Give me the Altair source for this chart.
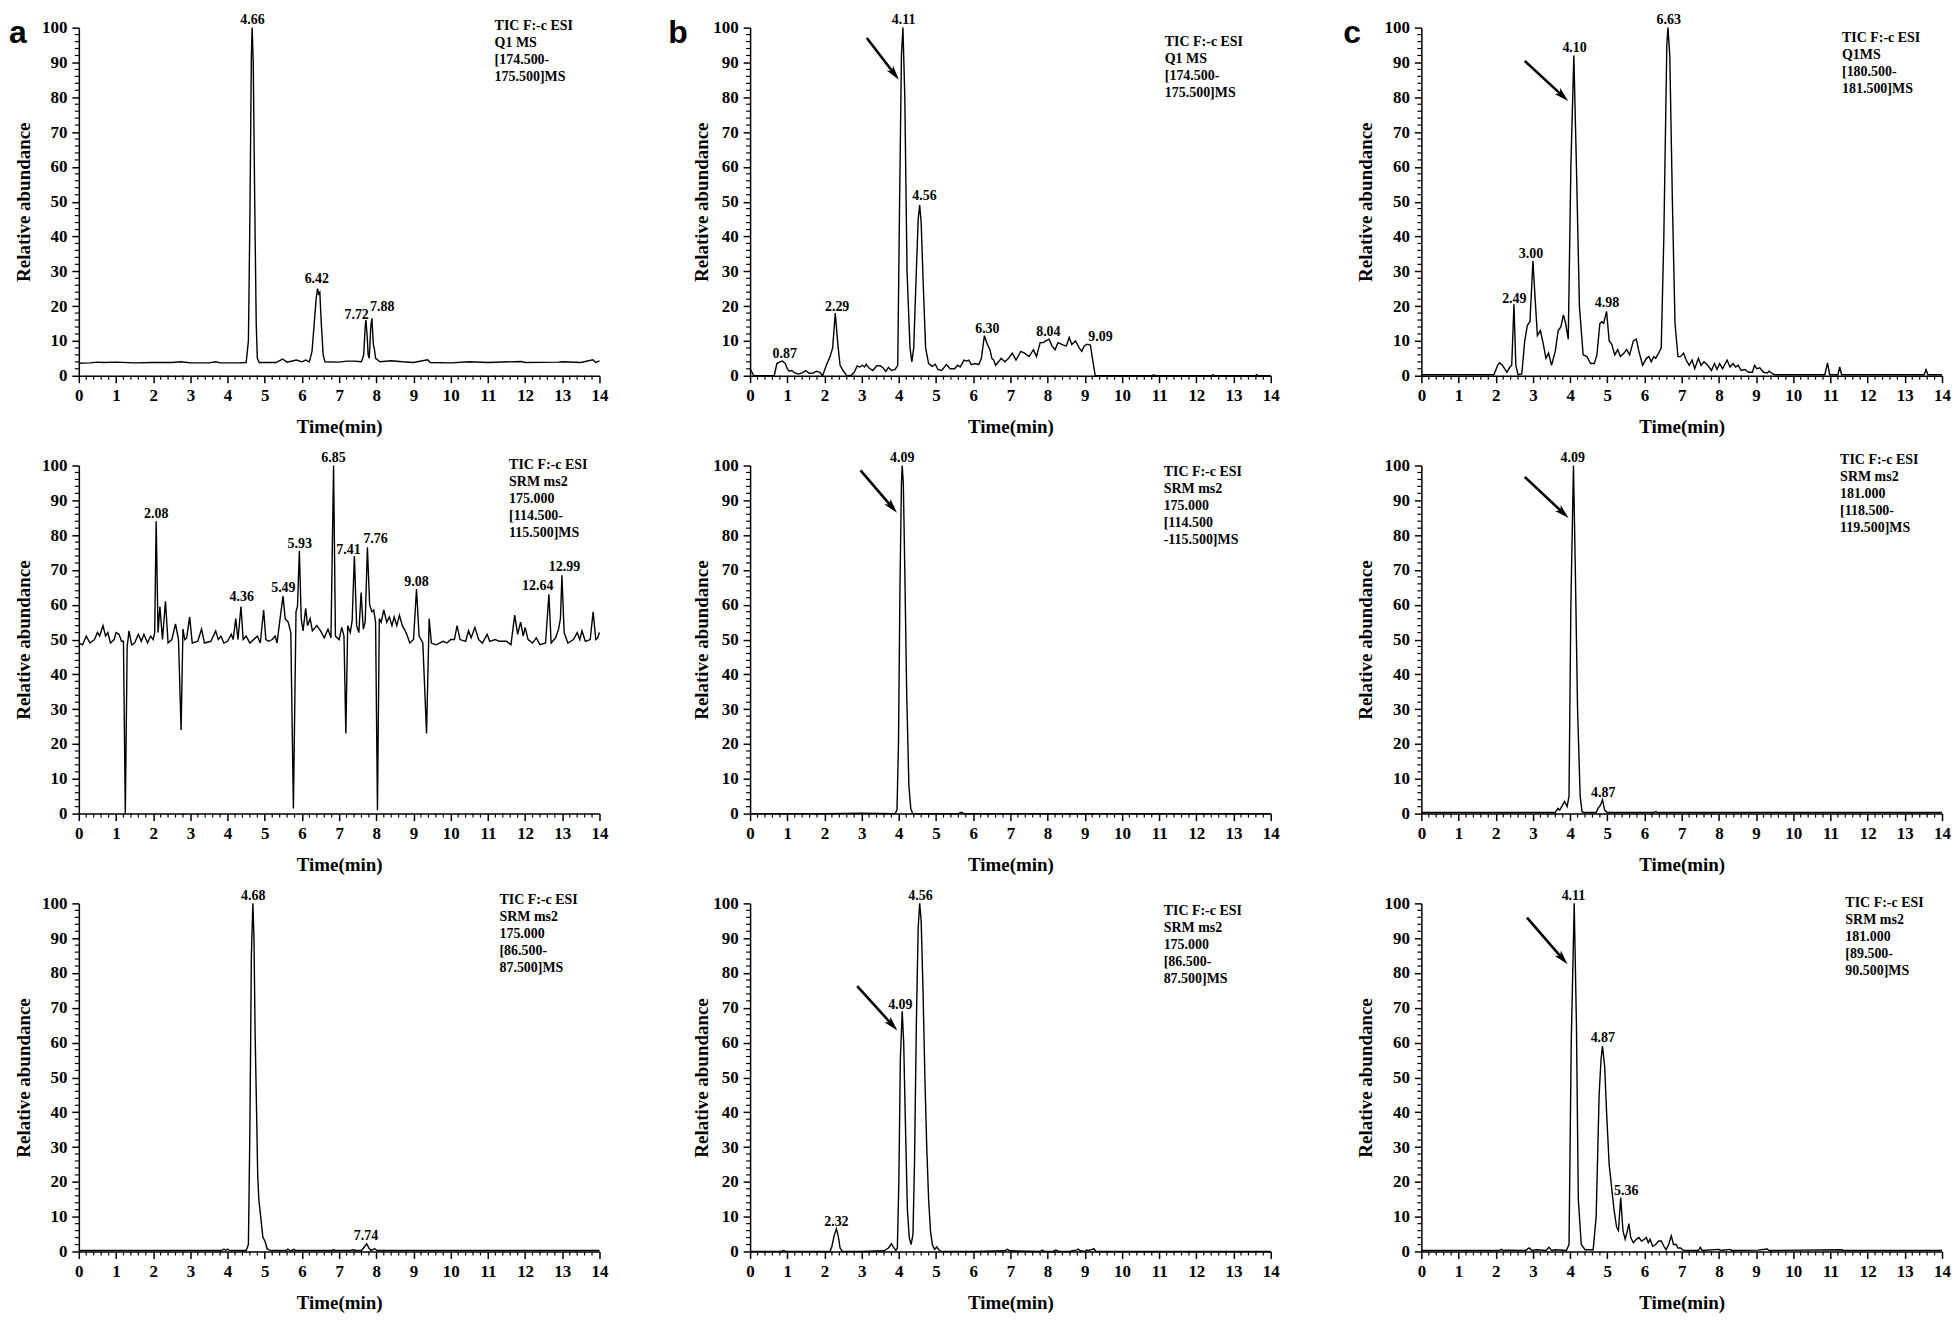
import math
import altair as alt
import pandas as pd

# ------------------------------------------------------------------ data
# panel a1 : Q1 MS [174.500-175.500]
a1 = [(0, 3.6), (0.3, 3.7), (0.5, 3.9), (0.65, 3.8), (1.0, 3.9), (1.5, 3.7), (2.0, 3.8), (2.5, 3.8),
      (2.75, 4.0), (3.0, 3.7), (3.5, 3.7), (3.68, 4.0), (3.8, 3.7), (4.3, 3.7), (4.5, 3.8), (4.56, 10),
      (4.6, 45), (4.64, 92), (4.66, 100), (4.69, 90), (4.73, 50), (4.77, 15), (4.8, 5), (4.85, 3.8),
      (5.3, 3.8), (5.48, 4.8), (5.6, 3.9), (5.85, 4.5), (6.0, 4.0), (6.1, 4.5), (6.2, 4.0), (6.27, 7),
      (6.33, 15), (6.38, 22), (6.42, 25), (6.45, 23.5), (6.48, 24), (6.52, 15), (6.57, 6), (6.62, 4),
      (7.0, 3.9), (7.2, 4.2), (7.4, 4.2), (7.6, 4.0), (7.66, 6), (7.7, 14), (7.72, 16), (7.75, 12),
      (7.78, 6), (7.81, 5), (7.85, 14), (7.88, 16.5), (7.92, 9), (7.95, 7.5), (7.98, 5), (8.1, 4.0),
      (8.4, 4.3), (8.7, 4.0), (9.0, 3.8), (9.38, 4.6), (9.45, 3.8), (10, 3.7), (10.5, 4.0), (11, 3.8),
      (11.9, 4.1), (12, 3.8), (12.9, 3.9), (13, 4.0), (13.5, 3.8), (13.82, 4.6), (13.9, 3.8), (14, 4.3)]

# panel a2 : SRM 175.000 [114.500-115.500]
a2 = [(0.0, 49), (0.1, 48.5), (0.2, 51), (0.3, 49), (0.42, 50), (0.5, 52), (0.56, 51), (0.65, 54),
      (0.72, 51), (0.78, 52), (0.85, 49), (0.95, 50), (1.0, 52), (1.08, 51.5), (1.15, 49.5), (1.2, 49.5),
      (1.25, 0), (1.3, 48), (1.35, 52.5), (1.42, 48.5), (1.5, 49), (1.6, 51.5), (1.68, 49.5), (1.75, 51.5),
      (1.85, 49), (1.93, 51), (2.0, 50), (2.04, 52), (2.08, 84), (2.13, 52), (2.18, 59.5), (2.25, 50),
      (2.33, 61), (2.4, 49), (2.5, 50), (2.6, 54.5), (2.68, 50), (2.75, 24), (2.8, 53), (2.85, 50),
      (2.9, 50.5), (2.98, 56.5), (3.05, 49), (3.2, 49.5), (3.3, 53), (3.38, 49), (3.55, 49.5), (3.68, 52.5),
      (3.75, 50), (3.82, 51), (3.9, 49), (4.0, 49.5), (4.1, 51.5), (4.15, 50), (4.22, 56), (4.28, 50),
      (4.36, 59.5), (4.42, 50), (4.5, 51), (4.6, 49), (4.8, 51), (4.88, 49), (4.97, 58.5), (5.03, 50),
      (5.1, 49.5), (5.2, 50), (5.28, 51), (5.33, 49), (5.4, 55), (5.49, 62.5), (5.55, 56), (5.63, 55),
      (5.7, 52), (5.77, 1.5), (5.84, 58), (5.88, 59.5), (5.93, 75.5), (5.98, 56), (6.03, 52.5), (6.1, 59),
      (6.15, 54), (6.22, 56), (6.28, 52.5), (6.4, 54), (6.5, 52.5), (6.6, 50.5), (6.7, 53), (6.78, 50.5),
      (6.85, 100), (6.9, 51), (7.0, 50), (7.07, 53.5), (7.13, 51), (7.18, 23), (7.23, 54), (7.3, 52),
      (7.35, 55.5), (7.41, 74), (7.47, 54), (7.53, 52), (7.59, 63.5), (7.65, 53), (7.7, 55), (7.76, 76.5),
      (7.82, 60), (7.88, 58), (7.93, 58.5), (7.98, 55), (8.03, 1), (8.08, 56), (8.13, 55), (8.2, 58.5),
      (8.28, 55), (8.35, 56.5), (8.42, 54), (8.48, 56.5), (8.55, 54), (8.62, 57), (8.7, 54), (8.8, 52),
      (8.9, 49), (9.0, 50), (9.08, 64.5), (9.15, 51), (9.25, 49), (9.35, 23), (9.42, 56), (9.48, 49),
      (9.6, 48.5), (9.8, 49.5), (9.9, 49), (10.0, 50), (10.1, 50), (10.17, 54), (10.25, 50), (10.4, 49.5),
      (10.48, 52.5), (10.55, 50.5), (10.65, 53.5), (10.75, 50), (10.85, 49), (10.98, 51.5), (11.05, 49.5),
      (11.2, 50), (11.3, 49.5), (11.5, 49.5), (11.62, 48.5), (11.72, 57), (11.8, 51.5), (11.88, 55),
      (11.95, 51), (12.0, 53.5), (12.08, 50), (12.2, 49), (12.3, 50.5), (12.4, 48.5), (12.55, 49),
      (12.64, 63), (12.7, 49), (12.82, 50.5), (12.9, 53), (12.95, 56), (12.99, 68.5), (13.05, 52),
      (13.15, 49), (13.3, 50), (13.4, 52), (13.47, 50), (13.53, 52.5), (13.62, 49.5), (13.75, 50),
      (13.83, 58), (13.9, 50), (13.95, 50.5), (14.0, 52)]

# panel a3 : SRM 175.000 [86.500-87.500]
a3 = [(0, 0.3), (1.0, 0.3), (2.0, 0.3), (3.0, 0.3), (3.85, 0.3), (3.9, 0.7), (3.95, 0.3), (4.0, 0.7),
      (4.05, 0.3), (4.5, 0.3), (4.56, 2), (4.6, 35), (4.64, 85), (4.68, 100), (4.71, 90), (4.74, 63),
      (4.78, 40), (4.81, 22), (4.84, 15), (4.88, 11), (4.92, 7), (4.95, 4), (4.98, 3.5), (5.02, 2.5),
      (5.06, 0.8), (5.12, 0.4), (5.3, 0.3), (5.58, 0.3), (5.62, 0.7), (5.67, 0.3), (5.74, 0.3),
      (5.78, 0.6), (5.83, 0.3), (6.8, 0.3), (6.85, 0.5), (6.9, 0.3), (7.3, 0.3), (7.38, 0.5), (7.45, 0.3),
      (7.6, 0.3), (7.67, 1.2), (7.74, 2.2), (7.8, 1.0), (7.85, 0.3), (7.9, 0.5), (7.96, 0.8), (8.02, 0.3),
      (10, 0.3), (12, 0.3), (14, 0.3)]

# panel b1 : Q1 MS [174.500-175.500]
b1 = [(0.0, 2), (0.05, 1), (0.1, 0), (0.65, 0), (0.72, 3.5), (0.8, 4), (0.87, 4.2), (0.95, 3.5),
      (1.0, 2), (1.05, 1.3), (1.12, 1.5), (1.2, 0.8), (1.3, 0.5), (1.4, 0.8), (1.5, 1.5), (1.58, 0.7),
      (1.7, 0.8), (1.78, 1.3), (1.88, 1), (1.95, 0), (2.05, 3), (2.15, 5.5), (2.22, 8), (2.29, 18),
      (2.36, 9), (2.42, 3), (2.5, 1.5), (2.6, 0), (2.7, 0), (2.8, 1), (2.88, 2.8), (2.95, 2.5), (3.02, 3),
      (3.08, 2.5), (3.12, 3.3), (3.2, 2.2), (3.3, 1.5), (3.4, 2.8), (3.5, 2.9), (3.58, 2.2), (3.65, 1.2),
      (3.72, 2.4), (3.8, 1.5), (3.9, 1.8), (3.97, 3), (4.02, 50), (4.07, 92), (4.11, 100), (4.16, 80),
      (4.22, 30), (4.3, 8), (4.35, 4), (4.4, 8), (4.47, 30), (4.52, 45), (4.56, 49), (4.6, 44),
      (4.66, 25), (4.72, 8), (4.8, 3.5), (4.9, 2.7), (4.98, 3.3), (5.05, 1.8), (5.15, 1.5), (5.28, 3.2),
      (5.38, 2), (5.5, 2), (5.58, 3), (5.65, 2.5), (5.75, 4.5), (5.82, 4.2), (5.88, 4.5), (5.95, 3.2),
      (6.05, 3.5), (6.15, 3.2), (6.22, 5), (6.3, 11.5), (6.38, 9), (6.45, 7.5), (6.5, 5), (6.55, 4.5),
      (6.6, 3), (6.68, 4), (6.75, 5), (6.85, 4), (6.95, 5), (7.05, 6.5), (7.15, 4.5), (7.28, 7),
      (7.38, 6.5), (7.5, 5.5), (7.62, 7.5), (7.7, 5.5), (7.8, 9.5), (7.88, 9.5), (7.95, 10), (8.04, 10.5),
      (8.12, 8.5), (8.2, 7.5), (8.28, 9.5), (8.38, 9), (8.5, 8.5), (8.58, 11), (8.65, 9), (8.75, 10),
      (8.85, 8), (8.92, 7), (8.98, 8.5), (9.05, 9), (9.09, 9), (9.15, 8.8), (9.22, 4), (9.28, 0),
      (10.8, 0), (10.85, 0.3), (10.9, 0), (12.4, 0), (12.45, 0.3), (12.5, 0), (13.58, 0), (13.62, 0.3),
      (13.66, 0), (14, 0)]

# panel b2 : SRM 175.000 [114.500-115.500]
b2 = [(0, 0), (2.0, 0), (3.0, 0.1), (3.9, 0), (3.95, 1), (3.99, 20), (4.03, 65), (4.07, 95), (4.09, 100),
      (4.12, 95), (4.16, 70), (4.21, 35), (4.27, 8), (4.32, 1.5), (4.37, 0), (4.45, 0), (5.6, 0),
      (5.68, 0.4), (5.75, 0), (14, 0)]

# panel b3 : SRM 175.000 [86.500-87.500]
b3 = [(0, 0), (0.85, 0), (0.9, 0.3), (0.95, 0), (1.5, 0), (2.15, 0), (2.2, 1.5), (2.26, 4.5), (2.32, 6.5),
      (2.37, 4.5), (2.42, 1), (2.48, 0), (3.0, 0), (3.6, 0.2), (3.72, 1), (3.8, 2.2), (3.86, 1.2),
      (3.92, 0.3), (3.96, 1), (4.0, 20), (4.04, 55), (4.09, 69), (4.13, 60), (4.18, 35), (4.23, 12),
      (4.28, 4), (4.33, 2), (4.38, 5), (4.42, 25), (4.47, 65), (4.52, 93), (4.56, 100), (4.6, 95),
      (4.65, 75), (4.7, 50), (4.75, 30), (4.8, 15), (4.85, 6), (4.9, 2), (4.96, 0.6), (5.02, 1.3),
      (5.07, 0.5), (5.15, 0), (6.0, 0), (6.85, 0.2), (6.92, 0.6), (6.98, 0.2), (7.8, 0), (7.86, 0.4),
      (7.92, 0), (8.15, 0), (8.22, 0.4), (8.3, 0), (8.6, 0), (8.7, 0.3), (8.78, 0.4), (8.82, 0.7),
      (8.88, 0.2), (9.0, 0), (9.05, 0.4), (9.1, 0.3), (9.2, 0.6), (9.24, 0.8), (9.3, 0), (14, 0)]

# panel c1 : Q1MS [180.500-181.500]
c1 = [(0, 0.3), (1.95, 0.3), (2.05, 3), (2.1, 3.7), (2.18, 3), (2.3, 1), (2.38, 2.5), (2.43, 3),
      (2.49, 20.5), (2.54, 3), (2.6, 0.3), (2.7, 0.5), (2.78, 10), (2.85, 14.5), (2.92, 15.5), (3.0, 33),
      (3.06, 22), (3.12, 11.5), (3.2, 13), (3.28, 9), (3.35, 5), (3.42, 6.5), (3.5, 3), (3.6, 7),
      (3.68, 13), (3.75, 14), (3.82, 17.5), (3.88, 15), (3.95, 10.5), (4.02, 60), (4.1, 92), (4.17, 60),
      (4.25, 20), (4.35, 6), (4.45, 5.5), (4.55, 3.5), (4.65, 3.5), (4.72, 6), (4.8, 15), (4.85, 15.5),
      (4.9, 15), (4.98, 18.5), (5.05, 10), (5.12, 9), (5.2, 6), (5.28, 7.5), (5.35, 5.5), (5.45, 6.5),
      (5.52, 7.5), (5.6, 6), (5.7, 10), (5.78, 10.5), (5.85, 7), (5.95, 3), (6.05, 5), (6.12, 5.5),
      (6.18, 4), (6.25, 5.5), (6.3, 5), (6.38, 6.5), (6.45, 8), (6.52, 40), (6.6, 95), (6.63, 100),
      (6.68, 92), (6.75, 50), (6.82, 15), (6.9, 5.5), (6.97, 5.5), (7.05, 6.5), (7.12, 4.5), (7.2, 3),
      (7.28, 4.5), (7.35, 2), (7.45, 5), (7.52, 3), (7.6, 4), (7.7, 3), (7.8, 1.5), (7.88, 3.5),
      (7.95, 1.8), (8.02, 3.5), (8.1, 2), (8.22, 4.5), (8.3, 2.5), (8.38, 3.5), (8.45, 2.5), (8.52, 3),
      (8.6, 1.5), (8.7, 1.8), (8.8, 1), (8.9, 1), (8.96, 3), (9.02, 2), (9.1, 2.3), (9.2, 1), (9.3, 0.8),
      (9.35, 1.3), (9.45, 0.5), (9.5, 0.3), (10.85, 0.3), (10.92, 3.7), (10.98, 0.3), (11.2, 0.3),
      (11.25, 2.5), (11.3, 0.3), (13.52, 0.3), (13.57, 1.8), (13.62, 0.3), (14, 0.3)]

# panel c2 : SRM 181.000 [118.500-119.500]
c2 = [(0, 0.3), (2.0, 0.3), (3.6, 0.3), (3.67, 1.5), (3.72, 1), (3.8, 2.5), (3.85, 3.5), (3.92, 2),
      (3.97, 5), (4.02, 60), (4.09, 100), (4.14, 70), (4.2, 30), (4.27, 5), (4.32, 0.5), (4.4, 0.3),
      (4.7, 0.3), (4.75, 1.5), (4.82, 2.5), (4.87, 4), (4.93, 1), (5.0, 0.3), (6.25, 0.3), (6.3, 0.6),
      (6.35, 0.3), (10, 0.3), (14, 0.3)]

# panel c3 : SRM 181.000 [89.500-90.500]
c3 = [(0, 0.3), (2.1, 0.3), (2.15, 0.6), (2.2, 0.3), (2.3, 0.4), (2.8, 0.3), (2.9, 1), (2.97, 0.3),
      (3.1, 0.5), (3.35, 0.3), (3.43, 1.2), (3.5, 0.3), (3.6, 0.5), (3.9, 0.3), (3.97, 2), (4.03, 60),
      (4.11, 100), (4.17, 65), (4.22, 15), (4.3, 2), (4.4, 0.5), (4.62, 0.5), (4.7, 10), (4.78, 45),
      (4.83, 55), (4.87, 59), (4.93, 53), (4.98, 40), (5.05, 25), (5.1, 20), (5.18, 12), (5.25, 7),
      (5.3, 6), (5.36, 15.5), (5.42, 6), (5.48, 3.5), (5.53, 5.5), (5.58, 8), (5.63, 4), (5.7, 2.5),
      (5.78, 3.5), (5.85, 4), (5.92, 3), (6.0, 3.5), (6.05, 4), (6.1, 2.5), (6.15, 3.5), (6.22, 1.5),
      (6.3, 2), (6.38, 3), (6.45, 3), (6.52, 1.5), (6.58, 0.5), (6.65, 2), (6.72, 4.5), (6.78, 2),
      (6.85, 2), (6.9, 1), (6.97, 1), (7.05, 0.3), (7.45, 0.3), (7.5, 1.2), (7.55, 0.3), (8.0, 0.6),
      (8.05, 0.3), (8.3, 0.6), (8.35, 0.3), (9.05, 0.4), (9.3, 0.7), (9.35, 0.3), (11.3, 0.5),
      (11.35, 0.3), (14, 0.3)]

# peak labels: (x, y, text)
a1_peaks = [(4.67, 100.9, "4.66"), (6.4, 26.6, "6.42"), (7.47, 16.4, "7.72"), (8.16, 18.5, "7.88")]
a2_peaks = [(2.08, 85, "2.08"), (4.38, 61, "4.36"), (5.5, 63.8, "5.49"), (5.94, 76.4, "5.93"),
            (6.85, 100.9, "6.85"), (7.25, 74.5, "7.41"), (7.98, 77.8, "7.76"), (9.08, 65.4, "9.08"),
            (12.34, 64.2, "12.64"), (13.06, 69.7, "12.99")]
a3_peaks = [(4.69, 100.9, "4.68"), (7.72, 3.3, "7.74")]
b1_peaks = [(4.13, 100.9, "4.11"), (4.69, 50.4, "4.56"), (2.34, 18.6, "2.29"), (0.93, 5, "0.87"),
            (6.38, 12.2, "6.30"), (8.02, 11.4, "8.04"), (9.42, 10, "9.09")]
b2_peaks = [(4.09, 100.9, "4.09")]
b3_peaks = [(4.58, 100.9, "4.56"), (4.04, 69.6, "4.09"), (2.32, 7.3, "2.32")]
c1_peaks = [(6.65, 100.9, "6.63"), (4.12, 93, "4.10"), (2.95, 33.9, "3.00"), (2.5, 21, "2.49"),
            (4.99, 19.7, "4.98")]
c2_peaks = [(4.07, 100.9, "4.09"), (4.89, 4.8, "4.87")]
c3_peaks = [(4.09, 100.9, "4.11"), (4.88, 60.1, "4.87"), (5.51, 16.2, "5.36")]

# scan descriptions
a1_info = ["TIC F:-c ESI", "Q1  MS", "[174.500-", "175.500]MS"]
a2_info = ["TIC F:-c ESI", "SRM  ms2", "175.000", "[114.500-", "115.500]MS"]
a3_info = ["TIC F:-c ESI", "SRM  ms2", "175.000", "[86.500-", "87.500]MS"]
b1_info = ["TIC F:-c ESI", "Q1  MS", "[174.500-", "175.500]MS"]
b2_info = ["TIC F:-c ESI", "SRM ms2", "175.000", "[114.500", "-115.500]MS"]
b3_info = ["TIC F:-c ESI", "SRM ms2", "175.000", "[86.500-", "87.500]MS"]
c1_info = ["TIC F:-c ESI", "Q1MS", "[180.500-", "181.500]MS"]
c2_info = ["TIC F:-c ESI", "SRM ms2", "181.000", "[118.500-", "119.500]MS"]
c3_info = ["TIC F:-c ESI", "SRM ms2", "181.000", "[89.500-", "90.500]MS"]

# ------------------------------------------------------------------ layout / style
W, H = 522, 349
PXX, PXY = W / 14.0, H / 100.0
SERIF = "Liberation Serif"
XS = alt.Scale(domain=[0, 14], nice=False, zero=False)
YS = alt.Scale(domain=[0, 100], nice=False, zero=False)
MINOR_X = [i / 5 for i in range(71) if i % 5]
MINOR_Y = [2 * i for i in range(51) if i % 5]
ARROW = "M0,0 L0.55,2 L0,1.5 L-0.55,2 Z"

AX_COMMON = dict(
    grid=False, labelFont=SERIF, labelFontSize=17, labelFontWeight="bold", labelColor="black",
    labelPadding=5, labelFlush=False, labelOverlap=False, tickSize=7, tickWidth=1.5,
    tickColor="black", domainColor="black", domainWidth=1.5, titleFont=SERIF, titleFontSize=19,
    titleFontWeight="bold", titleColor="black",
)
XA = alt.Axis(values=list(range(15)), title="Time(min)", titlePadding=14, **AX_COMMON)


def panel(trace, peaks, info, info_xy, ytp=8, letter=None, arrow=None):
    ya = alt.Axis(values=list(range(0, 101, 10)), title="Relative abundance", titlePadding=ytp, **AX_COMMON)

    def xe(field):
        return alt.X(field, type="quantitative", scale=XS, axis=XA)

    def ye(field):
        return alt.Y(field, type="quantitative", scale=YS, axis=ya)

    df = pd.DataFrame(trace, columns=["x", "y"])
    line = alt.Chart(df).mark_line(color="black", strokeWidth=1.4).encode(x=xe("x"), y=ye("y"))
    mx = alt.Chart(pd.DataFrame({"x": MINOR_X})).mark_rule(color="black", strokeWidth=1.2).encode(
        x=xe("x"), y=alt.value(H), y2=alt.value(H + 4))
    my = alt.Chart(pd.DataFrame({"y": MINOR_Y})).mark_rule(color="black", strokeWidth=1.2).encode(
        y=ye("y"), x=alt.value(0), x2=alt.value(-4))
    lab = alt.Chart(pd.DataFrame(peaks, columns=["x", "y", "s"])).mark_text(
        font=SERIF, fontSize=14, fontWeight="bold", color="black", align="center",
        baseline="alphabetic").encode(x=xe("x"), y=ye("y"), text="s:N")
    inf = alt.Chart(pd.DataFrame({"x": [info_xy[0]], "y": [info_xy[1]], "s": ["\n".join(info)]})).mark_text(
        font=SERIF, fontSize=14, fontWeight="bold", color="black", align="left",
        baseline="alphabetic", lineBreak="\n", lineHeight=17).encode(x=xe("x"), y=ye("y"), text="s:N")
    layers = [line, mx, my, lab, inf]
    if letter is not None:
        layers.append(alt.Chart(pd.DataFrame({"x": [letter[1]], "y": [95.7], "s": [letter[0]]})).mark_text(
            font="Liberation Sans", fontSize=32, fontWeight="bold", color="black", align="left",
            baseline="alphabetic").encode(x=xe("x"), y=ye("y"), text="s:N"))
    if arrow is not None:
        (x1, y1), (x2, y2) = arrow
        dxp, dyp = (x2 - x1) * PXX, -(y2 - y1) * PXY
        ln = math.hypot(dxp, dyp)
        ux, uy = dxp / ln, dyp / ln
        ex, ey = x2 - 7 * ux / PXX, y2 + 7 * uy / PXY
        ang = math.degrees(math.atan2(dxp, -dyp)) % 360
        shaft = alt.Chart(pd.DataFrame({"x": [x1], "y": [y1], "x2": [ex], "y2": [ey]})).mark_rule(
            color="black", strokeWidth=2.6).encode(x=xe("x"), y=ye("y"), x2="x2:Q", y2="y2:Q")
        head = alt.Chart(pd.DataFrame({"x": [x2], "y": [y2]})).mark_point(
            shape=ARROW, filled=True, color="black", opacity=1, size=220, angle=ang,
            strokeWidth=0).encode(x=xe("x"), y=ye("y"))
        layers += [shaft, head]
    return alt.layer(*layers).properties(width=W, height=H)


p_a1 = panel(a1, a1_peaks, a1_info, (11.18, 99.3), ytp=8, letter=("a", -1.88))
p_a2 = panel(a2, a2_peaks, a2_info, (11.57, 99.0), ytp=8)
p_a3 = panel(a3, a3_peaks, a3_info, (11.31, 99.8), ytp=8)
p_b1 = panel(b1, b1_peaks, b1_info, (11.15, 94.7), ytp=1, letter=("b", -2.2), arrow=((3.14, 97), (4.0, 85)))
p_b2 = panel(b2, b2_peaks, b2_info, (11.12, 97.0), ytp=1, arrow=((2.97, 98.6), (3.95, 86.4)))
p_b3 = panel(b3, b3_peaks, b3_info, (11.12, 96.7), ytp=1, arrow=((2.88, 76.2), (3.96, 63.5)))
p_c1 = panel(c1, c1_peaks, c1_info, (11.31, 95.9), ytp=8, letter=("c", -2.1), arrow=((2.78, 90.4), (3.95, 78.9)))
p_c2 = panel(c2, c2_peaks, c2_info, (11.26, 100.5), ytp=8, arrow=((2.78, 96.7), (3.96, 84.9)))
p_c3 = panel(c3, c3_peaks, c3_info, (11.4, 99.0), ytp=8, arrow=((2.84, 95.9), (3.93, 82.5)))

chart = alt.concat(
    p_a1, p_b1, p_c1, p_a2, p_b2, p_c2, p_a3, p_b3, p_c3,
    columns=3, spacing={"row": 90, "column": 151},
).properties(
    bounds="flush", padding={"top": 3, "left": 0, "right": 0, "bottom": 0}, background="white",
).configure_view(strokeWidth=0)

chart.save("out.html", embed_options={"renderer": "svg", "actions": False})
